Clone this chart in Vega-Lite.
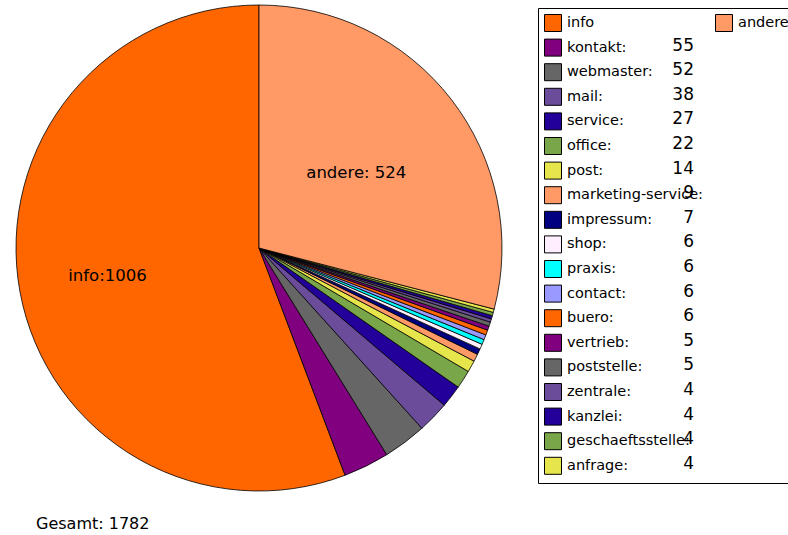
{
  "$schema": "https://vega.github.io/schema/vega-lite/v6.json",
  "width": 518,
  "height": 496,
  "autosize": {"type": "none"},
  "padding": {"left": 0, "top": 0, "right": 270, "bottom": 39},
  "background": "white",
  "config": {"view": {"stroke": null}},
  "title": {"text": "Gesamt: 1782", "orient": "bottom", "anchor": "start", "dx": 36, "offset": 20, "font": "DejaVu Sans", "fontSize": 16, "fontWeight": "normal", "color": "black"},
  "data": {"values": [
    {"name": "info", "value": 1006, "pielabel": "info:1006"},
    {"name": "kontakt", "value": 55, "pielabel": ""},
    {"name": "webmaster", "value": 52, "pielabel": ""},
    {"name": "mail", "value": 38, "pielabel": ""},
    {"name": "service", "value": 27, "pielabel": ""},
    {"name": "office", "value": 22, "pielabel": ""},
    {"name": "post", "value": 14, "pielabel": ""},
    {"name": "marketing-service", "value": 9, "pielabel": ""},
    {"name": "impressum", "value": 7, "pielabel": ""},
    {"name": "shop", "value": 6, "pielabel": ""},
    {"name": "praxis", "value": 6, "pielabel": ""},
    {"name": "contact", "value": 6, "pielabel": ""},
    {"name": "buero", "value": 6, "pielabel": ""},
    {"name": "vertrieb", "value": 5, "pielabel": ""},
    {"name": "poststelle", "value": 5, "pielabel": ""},
    {"name": "zentrale", "value": 4, "pielabel": ""},
    {"name": "kanzlei", "value": 4, "pielabel": ""},
    {"name": "geschaeftsstelle", "value": 4, "pielabel": ""},
    {"name": "anfrage", "value": 4, "pielabel": ""},
    {"name": "andere", "value": 524, "pielabel": "andere: 524"}
  ]},
  "transform": [
    {"window": [{"op": "row_number", "as": "rank"}]}
  ],
  "layer": [
    {
      "mark": {"type": "arc", "radius": 243, "stroke": "black", "strokeWidth": 0.8},
      "encoding": {
        "theta": {"field": "value", "type": "quantitative", "stack": true},
        "order": {"field": "rank", "type": "quantitative", "sort": "descending"},
        "fill": {
          "field": "name", "type": "nominal",
          "scale": {
            "domain": ["info","kontakt","webmaster","mail","service","office","post","marketing-service","impressum","shop","praxis","contact","buero","vertrieb","poststelle","zentrale","kanzlei","geschaeftsstelle","anfrage","andere"],
            "range": ["#ff6600","#800080","#666666","#6b4c9a","#220099","#7aa64a","#e6e64c","#ff9966","#000080","#ffeeff","#00ffff","#9999ff","#ff6600","#800080","#666666","#6b4c9a","#220099","#7aa64a","#e6e64c","#ff9966"]
          },
          "legend": {
            "orient": "none", "legendX": 538, "legendY": 8, "title": null,
            "values": ["info","kontakt","webmaster","mail","service","office","post","marketing-service","impressum","shop","praxis","contact","buero","vertrieb","poststelle","zentrale","kanzlei","geschaeftsstelle","anfrage"],
            "symbolType": "square", "symbolSize": 289, "symbolStrokeColor": "black", "symbolStrokeWidth": 1,
            "labelFont": "DejaVu Sans", "labelFontSize": 14.5, "labelColor": "black", "labelOffset": 5, "labelLimit": 1000,
            "rowPadding": 2.6, "padding": 6, "strokeColor": "black",
            "labelExpr": "datum.label == 'info' ? 'info\u2800\u2800\u2800\u2800\u2800\u2800\u2800\u2800\u2800\u2800\u2800\u2800\u2800\u2800\u2800\u2800\u2800\u2800\u2800\u2800\u2800\u2800\u2800\u2800\u2800\u2800\u2800\u2800' : datum.label + ':'"
          }
        }
      }
    },
    {
      "mark": {"type": "text", "radius": 123, "font": "DejaVu Sans", "fontSize": 16.5, "color": "black"},
      "encoding": {
        "theta": {"field": "value", "type": "quantitative", "stack": true},
        "order": {"field": "rank", "type": "quantitative", "sort": "descending"},
        "text": {"condition": {"test": "datum.name == 'andere'", "field": "pielabel"}, "value": ""}
      }
    },
    {
      "mark": {"type": "text", "radius": 154, "font": "DejaVu Sans", "fontSize": 16.5, "color": "black"},
      "encoding": {
        "theta": {"field": "value", "type": "quantitative", "stack": true},
        "order": {"field": "rank", "type": "quantitative", "sort": "descending"},
        "text": {"condition": {"test": "datum.name == 'info'", "field": "pielabel"}, "value": ""}
      }
    },
    {
      "transform": [{"filter": "datum.name == 'andere'"}],
      "mark": {"type": "point", "filled": true, "opacity": 0, "shape": "square"},
      "encoding": {
        "color": {
          "field": "name", "type": "nominal",
          "scale": {"domain": ["andere"], "range": ["#ff9966"]},
          "legend": {
            "orient": "none", "legendX": 709, "legendY": 8, "title": null,
            "symbolType": "square", "symbolSize": 289, "symbolStrokeColor": "black", "symbolStrokeWidth": 1, "symbolOpacity": 1,
            "labelFont": "DejaVu Sans", "labelFontSize": 14.5, "labelColor": "black", "labelOffset": 5, "labelLimit": 1000,
            "padding": 6
          }
        }
      }
    },
    {
      "transform": [
        {"filter": "datum.name != 'andere' && datum.name != 'info'"},
        {"calculate": "(datum.rank < 10 ? '0' : '') + datum.rank + '|' + datum.value", "as": "numkey"}
      ],
      "mark": {"type": "point", "opacity": 0},
      "encoding": {
        "shape": {
          "field": "numkey", "type": "nominal",
          "legend": {
            "orient": "none", "legendX": 675, "legendY": 36, "title": null,
            "symbolType": "square", "symbolSize": 289, "symbolOpacity": 0,
            "labelFont": "DejaVu Sans", "labelFontSize": 17, "labelColor": "black", "labelOffset": 0, "labelAlign": "right", "labelLimit": 1000,
            "rowPadding": 6.6, "padding": 0,
            "labelExpr": "slice(datum.label, indexof(datum.label, '|') + 1)",
            "encode": {"labels": {"update": {"dx": {"signal": "datum.value == '08|9' || datum.value == '18|4' ? 33 : 0"}}}}
          }
        }
      }
    }
  ]
}
